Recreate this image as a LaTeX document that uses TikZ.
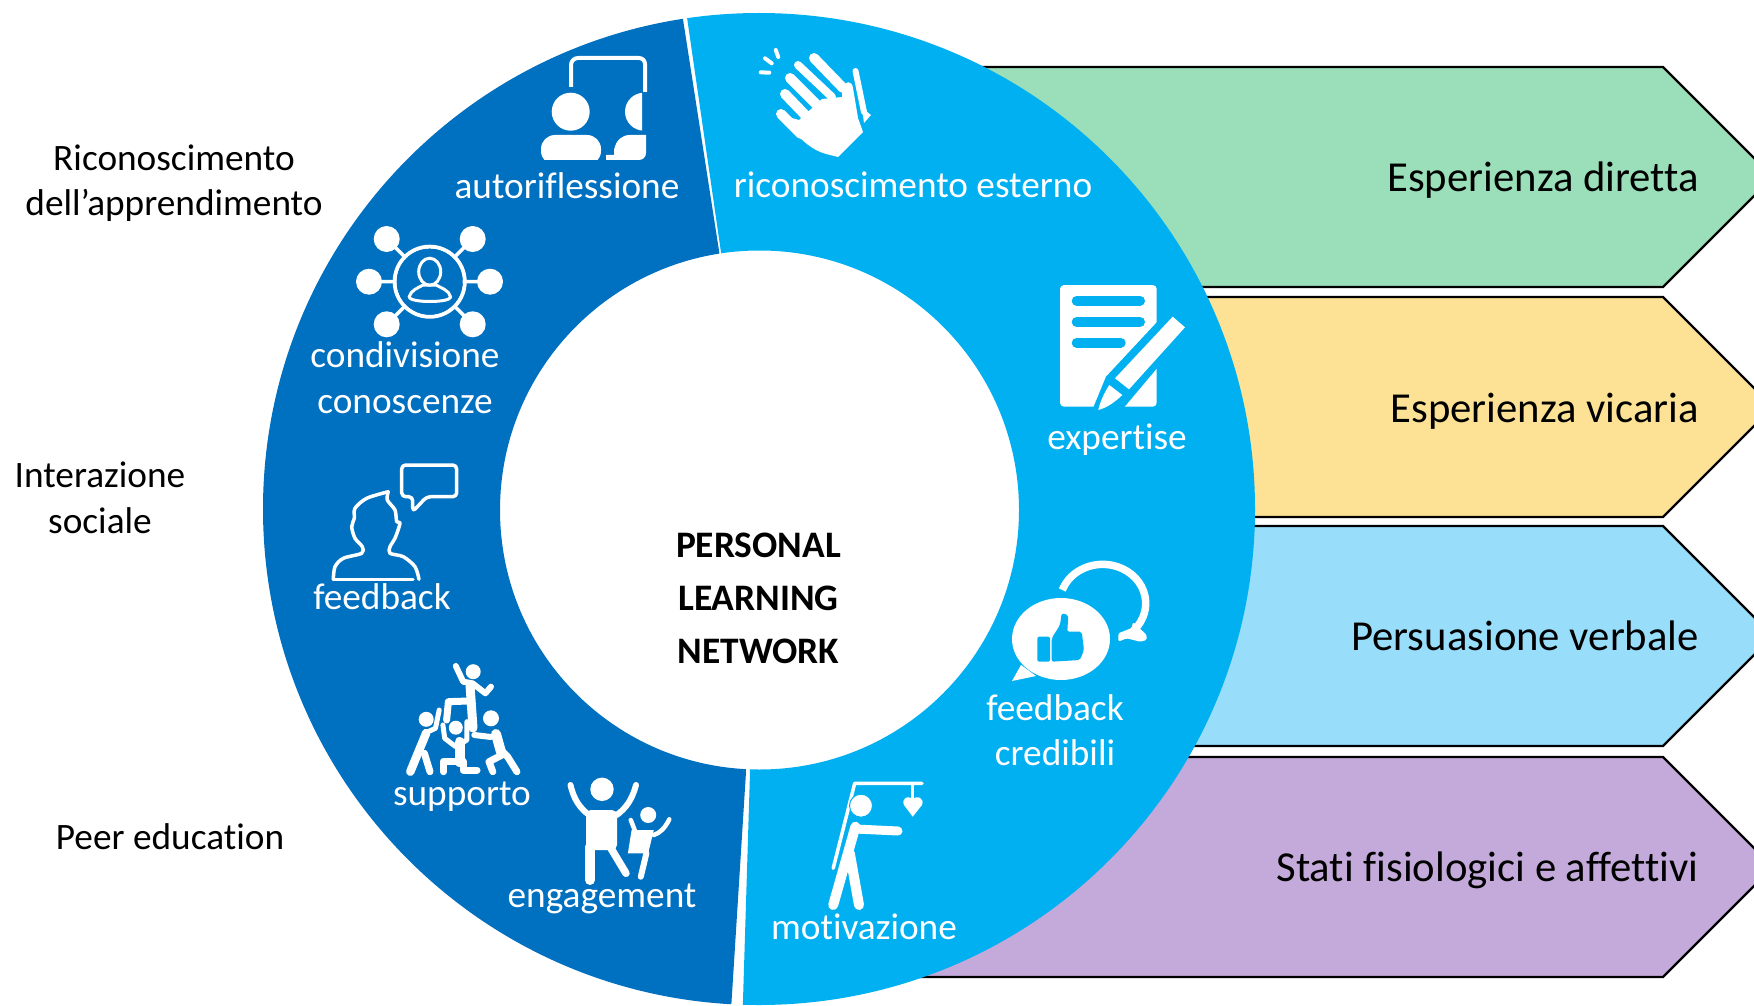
\documentclass[tikz,border=0pt]{standalone}
\usepackage{fontspec}
\setmainfont{Carlito}[RawFeature={-liga}]
\definecolor{ringdark}{HTML}{0070C0}
\definecolor{ringlight}{HTML}{00B0F0}
\definecolor{arrowgreen}{HTML}{9ADFB9}
\definecolor{arrowyellow}{HTML}{FDE295}
\definecolor{arrowblue}{HTML}{98DEFB}
\definecolor{arrowpurple}{HTML}{C4AADA}
\begin{document}
\begin{tikzpicture}
  [x=1pt,y=-1pt]
  \tikzstyle{arrow_style} = [draw=black, line width=2.2, line join=miter]
  \tikzstyle{big_text} = [inner sep=0, align=center, font=\fontsize{37.3}{45.5}\selectfont]
  \tikzstyle{label_text} = [big_text, text=white]
  \tikzstyle{side_text} = [inner sep=0, anchor=east, font=\fontsize{42.7}{50}\selectfont]
  \tikzstyle{icon_fill} = [fill=white, draw=none]
  \tikzstyle{icon_line} = [draw=white, line cap=round, line join=round]
  \clip (0,0) rectangle (1754,1006);
  \fill[white] (0,0) rectangle (1754,1006);
  \draw[arrow_style, fill=arrowgreen] (950,67) -- (1663,67) -- (1773,177) -- (1663,287) -- (950,287) -- cycle;
  \draw[arrow_style, fill=arrowyellow] (1100,297) -- (1663,297) -- (1773,407) -- (1663,517) -- (1100,517) -- cycle;
  \draw[arrow_style, fill=arrowblue] (1100,526) -- (1663,526) -- (1773,636) -- (1663,746) -- (1100,746) -- cycle;
  \draw[arrow_style, fill=arrowpurple] (880,757) -- (1663,757) -- (1773,867) -- (1663,977) -- (880,977) -- cycle;
  \begin{scope}
    \clip (0,0) -- (680,0) -- (722,270) -- (746,772) -- (731,1010) -- (0,1010) -- cycle;
    \fill[ringdark, even odd rule] (759,509) circle (496) (759.5,510) circle (259.5);
  \end{scope}
  \begin{scope}
    \clip (1800,0) -- (684.5,0) -- (725,280) -- (750,773) -- (742.7,1010) -- (1800,1010) -- cycle;
    \fill[ringlight, even odd rule] (759,509) circle (496) (759.5,510) circle (259.5);
  \end{scope}
  \node[side_text] (n1) at (1699,180) {Esperienza diretta};
  \node[side_text] (n2) at (1699,411) {Esperienza vicaria};
  \node[side_text] (n3) at (1699,636) {Persuasione verbale};
  \node[side_text] (n4) at (1699,870) {Stati fisiologici e affettivi};
  \node[big_text] (n5) at (174,183) {Riconoscimento\\dell’apprendimento};
  \node[big_text] (n6) at (100,498) {Interazione\\sociale};
  \node[big_text] (n7) at (170,837) {Peer education};
  \node[inner sep=0, align=center, font=\bfseries\fontsize{37.4}{53}\selectfont] (n8) at (758.5,598) {PERSONAL\\LEARNING\\NETWORK};
  \node[label_text] (n9) at (567,186) {autoriflessione};
  \node[label_text] (n10) at (913,185) {riconoscimento esterno};
  \node[label_text] (n11) at (405,377.5) {condivisione\\conoscenze};
  \node[label_text] (n12) at (382,597) {feedback};
  \node[label_text] (n13) at (462,796.5) {supporto};
  \node[label_text] (n14) at (602,898.5) {engagement};
  \node[label_text] (n15) at (864,927) {motivazione};
  \node[label_text] (n16) at (1055,730) {feedback\\credibili};
  \node[label_text] (n17) at (1117,440) {expertise};
  \draw[icon_line, line width=4, line cap=butt] (571,87) -- (571,65) arc (180:270:7) -- (639,58) arc (-90:0:6) -- (645,92);
  \fill[icon_fill] (570.7,111.7) circle (19);
  \fill[icon_fill, rounded corners=14] (541,165) -- (541,135) -- (601,135) -- (601,165) -- cycle;
  \fill[ringdark] (535,160) rectangle (606,170);
  \begin{scope}
    \clip (620,88) rectangle (642,132);
    \fill[icon_fill] (644,111.7) circle (19);
  \end{scope}
  \fill[icon_fill] (606,160) -- (606,155) -- (614,155) -- (614,150) .. controls (616,140) and (622,135) .. (630,135) -- (646,135) -- (646,153) arc (0:90:7) -- cycle;
  \fill[icon_fill] (777,114) -- (797,135) .. controls (808,146) and (816,151) .. (826,154) -- (838,157) -- (863,132) -- (858,118) -- (853,88) .. controls (852,80) and (845,80) .. (842,90) -- (842,97) -- (822,99) -- (799,120) -- cycle;
  \draw[icon_line, line width=10] (781,114) -- (801,134);
  \draw[icon_line, line width=10] (785,94) -- (810,120);
  \draw[icon_line, line width=10] (790,78) -- (820,108);
  \draw[icon_line, line width=8] (798,65) -- (832,97);
  \draw[icon_line, line width=10] (814,58) -- (843,88);
  \draw[icon_line, line width=6] (855.5,71) -- (864,112);
  \fill[icon_fill] (862,108) -- (871,115) -- (864,123) -- cycle;
  \draw[icon_line, line width=4] (775.7,50) -- (778.3,57);
  \draw[icon_line, line width=4] (765,58.3) -- (771.7,63.3);
  \draw[icon_line, line width=4] (760.7,72.3) -- (769.3,72.7);
  \draw[icon_line, line width=4] (429.7,281.7) circle (35);
  \draw[icon_line, line width=3.5] (386.7,239) -- (472.7,324.3) (472.7,239) -- (386.7,324.3) (369,281.7) -- (490,281.7);
  \fill[ringdark] (429.7,281.7) circle (33);
  \fill[icon_fill] (386.7,239) circle (13) (472.7,239) circle (13) (369,281.7) circle (13) (490,281.7) circle (13) (386.7,324.3) circle (13) (472.7,324.3) circle (13);
  \draw[icon_line, line width=3] (429.7,271.7) ellipse (11 and 13.5);
  \draw[icon_line, line width=3] (409,297) .. controls (411,290) and (418,288) .. (423,285) -- (436,285) .. controls (441,288) and (449,290) .. (450.7,297) .. controls (450,303) and (410,303) .. (409,297) -- cycle;
  \draw[icon_line, line width=3.5, rounded corners=4] (412.7,496.7) -- (401.7,496.7) -- (401.7,465) -- (456.7,465) -- (456.7,496.7) -- (426.7,496.7) -- (412.7,511.7) -- cycle;
  \draw[icon_line, line width=3.5] plot[smooth, tension=.5] coordinates {(333.3,579.3) (335,566.7) (343.3,558.3) (361.7,553.3) (362.3,546.7) (355,538.3) (351.7,526.7) (354.3,518.3) (355,508.3) (366.7,498.3) (388.3,491.7)};
  \draw[icon_line, line width=3.5] plot[smooth, tension=.5] coordinates {(388.3,491.7) (387.3,500) (395,510) (396.7,521.7) (400,523.3) (395,538.3) (390,546.7) (390,553.3) (403.3,556.7) (415,566.7) (419,579.3)};
  \draw[icon_line, line width=3.5] (333.3,579.3) -- (413,579.3);
  \fill[icon_fill] (473.2,671.7) circle (7.5);
  \draw[icon_line, line width=6] (455.8,666) -- (463.2,681.7) -- (472.5,683.3) -- (485.4,693.3) -- (491,686.7);
  \draw[icon_line, line width=9] (470,685) -- (473,728);
  \draw[icon_line, line width=7] (468,701) -- (448.4,701.7) -- (446.6,720);
  \fill[icon_fill] (426.2,719.3) circle (7.5);
  \draw[icon_line, line width=5] (439.2,710) -- (435.5,728.3) -- (428,731.7);
  \draw[icon_line, line width=8.5] (426.2,733) -- (410.3,771.7);
  \draw[icon_line, line width=7] (424.4,753.3) -- (430,771.7);
  \fill[icon_fill] (455.8,727.7) circle (7);
  \draw[icon_line, line width=5] (442.9,725) -- (444.7,738.3) -- (455.8,746.7) -- (466.9,740) -- (466.9,721.7);
  \draw[icon_line, line width=10] (459.5,742) -- (459.5,762);
  \draw[icon_line, line width=7] (443.6,771.7) -- (443.6,761) -- (463,761) -- (463,770) -- (477,770);
  \fill[icon_fill] (491,718.3) circle (8);
  \draw[icon_line, line width=6] (474.3,735) -- (491,737);
  \draw[icon_line, line width=10] (496,734) -- (501,752);
  \draw[icon_line, line width=7] (501,750) -- (507.6,756.7) -- (516.9,771.7);
  \draw[icon_line, line width=7] (502,755) -- (489,761.7) -- (492.8,771.7);
  \fill[icon_fill] (602,789.3) circle (11.7);
  \draw[icon_line, line width=6] (570.5,785) .. controls (574,800) and (580,808) .. (589,815);
  \draw[icon_line, line width=6] (636,785) .. controls (632,800) and (626,808) .. (616.8,815);
  \fill[icon_fill, rounded corners=5] (586,810) -- (617,810) -- (617,850) -- (586,850) -- cycle;
  \draw[icon_line, line width=10] (590,846.7) -- (590,880);
  \draw[icon_line, line width=7.5] (610,846.7) -- (626,873.3);
  \fill[icon_fill] (648.2,815) circle (8);
  \draw[icon_line, line width=4.5] (630.8,820) -- (635.3,831.7);
  \draw[icon_line, line width=4.5] (669.3,819.3) .. controls (665,828) and (660,833) .. (653.8,835);
  \fill[icon_fill] (631.6,830) -- (653.8,830) -- (648.2,853.3) -- (627.9,853.3) -- cycle;
  \draw[icon_line, line width=6] (646.4,853.3) -- (640.8,876.7);
  \draw[icon_line, line width=3.5] (833.2,868.3) -- (854.7,783.3) -- (922,783.3);
  \draw[icon_line, line width=2.5] (912.7,783.3) -- (912.7,799.3);
  \fill[icon_fill] (912.7,816.7) -- (904,805) .. controls (901,798) and (909,794) .. (912.7,800) .. controls (916,794) and (925,798) .. (922,805) -- cycle;
  \fill[icon_fill, draw=ringlight, line width=1] (861,805.7) circle (11.5);
  \draw[icon_line, line width=9] (855.4,829) -- (898,831);
  \draw[icon_line, line width=10] (855.4,826.7) -- (833.2,905);
  \draw[icon_line, line width=10] (849.8,853.3) -- (859,905);
  \fill[icon_fill, rounded corners=4] (1060,285) rectangle (1156.7,406.7);
  \draw[draw=ringlight, line width=10, line cap=round] (1076.7,300.7) -- (1140,300.7) (1076.7,322) -- (1140,322) (1076.7,342.7) -- (1120.7,342.7);
  \fill[ringlight] (1158,321) -- (1106,376.7) -- (1093,408.3) -- (1123.3,408.3) -- (1158,367) -- cycle;
  \fill[icon_fill] (1172.7,316.7) -- (1185,327.3) -- (1129,389.3) -- (1115,378.3) -- cycle;
  \fill[icon_fill] (1109.3,385) -- (1122.3,395) .. controls (1114,403) and (1106,408) .. (1098.3,410) .. controls (1100,402) and (1104,393) .. (1109.3,385) -- cycle;
  \fill[icon_fill] (1061,639) ellipse (49 and 41);
  \fill[icon_fill] (1021,665) -- (1012,681) -- (1036,676) -- cycle;
  \fill[ringlight, rounded corners=2] (1037.3,636.7) rectangle (1050,661.7);
  \fill[ringlight, rounded corners=2] (1051.7,661.7) -- (1051.7,638.3) -- (1060,625) -- (1061.7,613.3) -- (1068.3,615) -- (1067.3,631.7) -- (1081.7,631.7) -- (1084,650) -- (1080,660) -- cycle;
  \draw[icon_line, line width=7.5, line cap=butt] (1062.3,590) arc (200:400:43 and 39);
  \fill[icon_fill, rounded corners=1.5] (1133,622) -- (1146.7,635) -- (1146.7,640) -- (1140,641.7) -- (1126.7,638.3) -- (1118.3,641.7) -- (1118.3,633.3) -- (1126.7,630) -- (1131.7,628) -- cycle;
\end{tikzpicture}
\end{document}
